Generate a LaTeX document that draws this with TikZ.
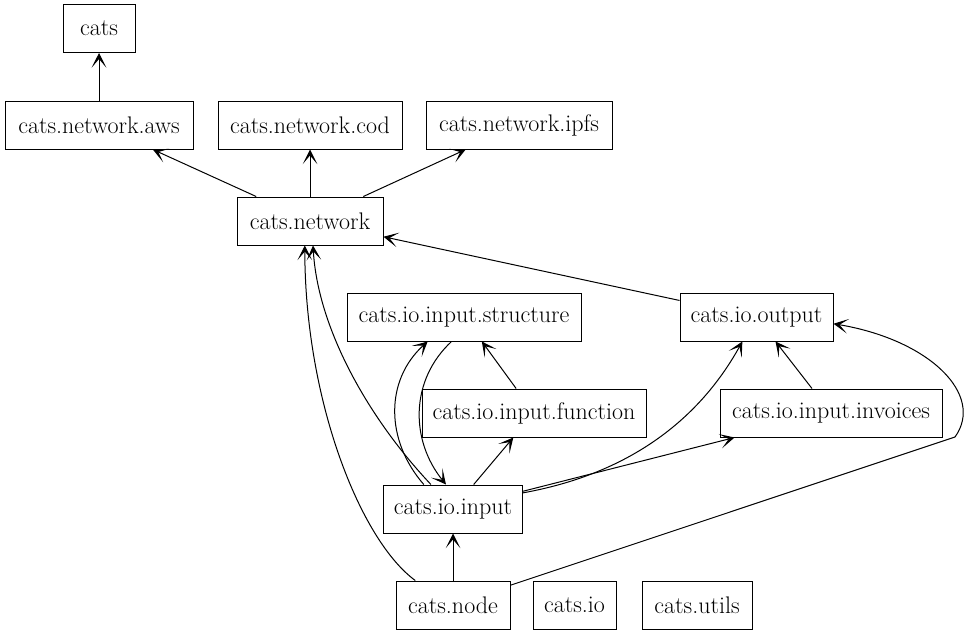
\documentclass[tikz,border=0pt]{standalone}
\usepackage{tikz}
\usetikzlibrary{arrows.meta}

\begin{document}
\begin{tikzpicture}[x=0.75pt,y=-0.75pt,line width=0.75pt,
  >={Stealth[length=11pt,width=11pt,inset=6.5pt]},
  pkg/.style={draw,rectangle,inner sep=0pt,minimum height=36pt,minimum width=#1,
    font=\fontsize{18}{21}\selectfont}]
 \useasboundingbox (0,0) rectangle (970,635);
 % packages
 \node[pkg=54pt] (cats) at (99,28.5) {cats};
 \node[pkg=141pt] (aws) at (99,125) {cats.network.aws};
 \node[pkg=138pt] (cod) at (310,125) {cats.network.cod};
 \node[pkg=139.5pt] (ipfs) at (519,125) {cats.network.ipfs};
 \node[pkg=109.5pt] (network) at (310,221) {cats.network};
 \node[pkg=175.5pt] (structure) at (464,317) {cats.io.input.structure};
 \node[pkg=114.75pt] (output) at (756.5,317) {cats.io.output};
 \node[pkg=168pt] (function) at (534,413) {cats.io.input.function};
 \node[pkg=166.5pt] (invoices) at (831,413) {cats.io.input.invoices};
 \node[pkg=104.25pt] (input) at (453,509) {cats.io.input};
 \node[pkg=85.5pt] (catsnode) at (453,605) {cats.node};
 \node[pkg=62.25pt] (io) at (574.5,605) {cats.io};
 \node[pkg=82.5pt] (utils) at (697,605) {cats.utils};
 \coordinate (bend) at (955,437);
 % imports
 \path[->]
 (aws) edge (cats)
 (network) edge (aws)
 (network) edge (cod)
 (network) edge (ipfs)
 (output) edge (network)
 (function) edge (structure)
 (input) edge (function)
 (input) edge (invoices)
 (invoices) edge (output)
 (catsnode) edge (input);
 \draw[->] (input.132) .. controls (370,420) and (318,330) .. (network.277);
 \draw[->] (catsnode.147) .. controls (360,540) and (305,400) .. (network.258);
 \draw[->] (input.140) .. controls (385,440) and (385,380) .. (structure.214);
 \draw[->] (structure.243) .. controls (410,380) and (410,440) .. (input.106);
 \draw[->] (input.13) .. controls (650,470) and (710,400) .. (output.240);
 \draw[->] (catsnode.19) -- (bend) .. controls (985,395) and (930,340) .. (output.355);
\end{tikzpicture}
\end{document}
